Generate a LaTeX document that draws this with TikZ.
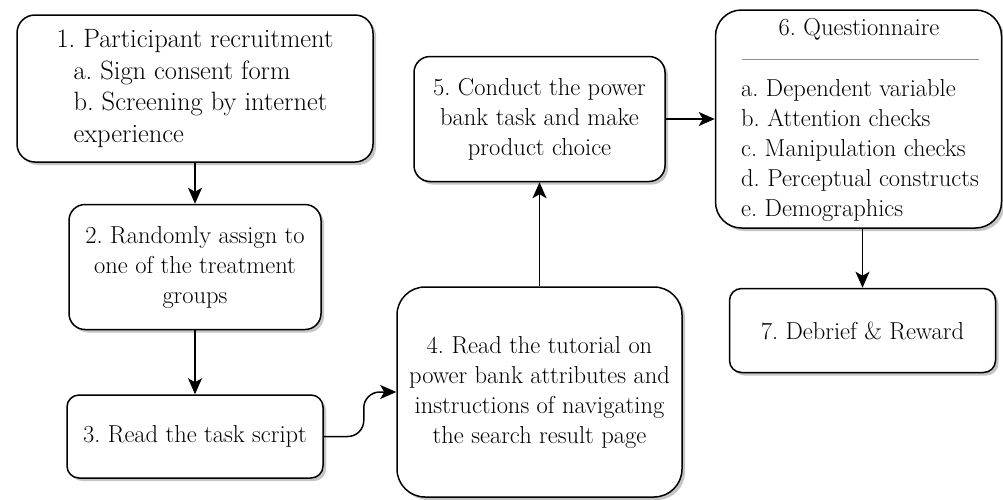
\documentclass[tikz,border=0pt]{standalone}
\frenchspacing
\usetikzlibrary{positioning, arrows.meta, shadows}
\tikzset{
  stepbox/.style={
    draw, rectangle, line width=1.5pt,
    fill=white, align=center, inner sep=0pt,
    font=\fontsize{24.5}{30}\selectfont,
    drop shadow={shadow xshift=3pt, shadow yshift=-3pt, fill=black!45, opacity=0.5}
  },
  txt/.style={inner sep=0pt, font=\fontsize{24.5}{30}\selectfont},
  flow/.style={-{Stealth[length=16pt, width=14pt, inset=4pt]}, line width=1.5pt},
}

\begin{document}
\begin{tikzpicture}[x=1pt, y=-1pt]
    \useasboundingbox (0,0) rectangle (1003,499);
    \node[stepbox, rounded corners=18pt, minimum width=356pt, minimum height=147pt,
          align=left, font=\fontsize{26.5}{31.5}\selectfont] (rec) at (195,88.5)
      {1. Participant recruitment\\
       \hspace*{17pt}a. Sign consent form\\
       \hspace*{17pt}b. Screening by internet\\
       \hspace*{17pt}experience};
    \node[stepbox, rounded corners=16pt, minimum width=252pt, minimum height=125pt,
          below=41pt of rec] (assign)
      {2. Randomly assign to\\one of the treatment\\groups};
    \node[stepbox, rounded corners=12pt, minimum width=256pt, minimum height=83pt,
          below=64pt of assign] (script)
      {3. Read the task script};
    \node[stepbox, rounded corners=28pt, minimum width=285pt, minimum height=210pt] (tutorial) at (539.5,392)
      {4. Read the tutorial on\\power bank attributes and\\instructions of navigating\\the search result page};
    \node[stepbox, rounded corners=16pt, minimum width=251pt, minimum height=125pt,
          above=104pt of tutorial] (conduct)
      {5. Conduct the power\\bank task and make\\product choice};
    \node[stepbox, rounded corners=26pt, minimum width=286pt, minimum height=218pt,
          right=49pt of conduct] (quest) {};
    \node[txt] (qhead) at (859,29) {6. Questionnaire};
    \draw[black!45, line width=1pt] (742,59) -- (979,59);
    \node[txt, align=left] (qitems) at (860,150)
      {a. Dependent variable\\
       b. Attention checks\\
       c. Manipulation checks\\
       d. Perceptual constructs\\
       e. Demographics};
    \node[stepbox, rounded corners=12pt, minimum width=266pt, minimum height=84pt,
          below=59pt of quest, xshift=4pt] (debrief)
      {7. Debrief \& Reward};
    \draw[flow] (rec) -- (assign);
    \draw[flow] (assign) -- (script);
    \draw[flow, rounded corners=16pt] (script.east) -- ++(40,0) |- (tutorial.west);
    \draw[flow] (tutorial) -- (conduct);
    \draw[flow] (conduct) -- (quest);
    \draw[flow] (quest.south -| debrief.north) -- (debrief);
\end{tikzpicture}
\end{document}
